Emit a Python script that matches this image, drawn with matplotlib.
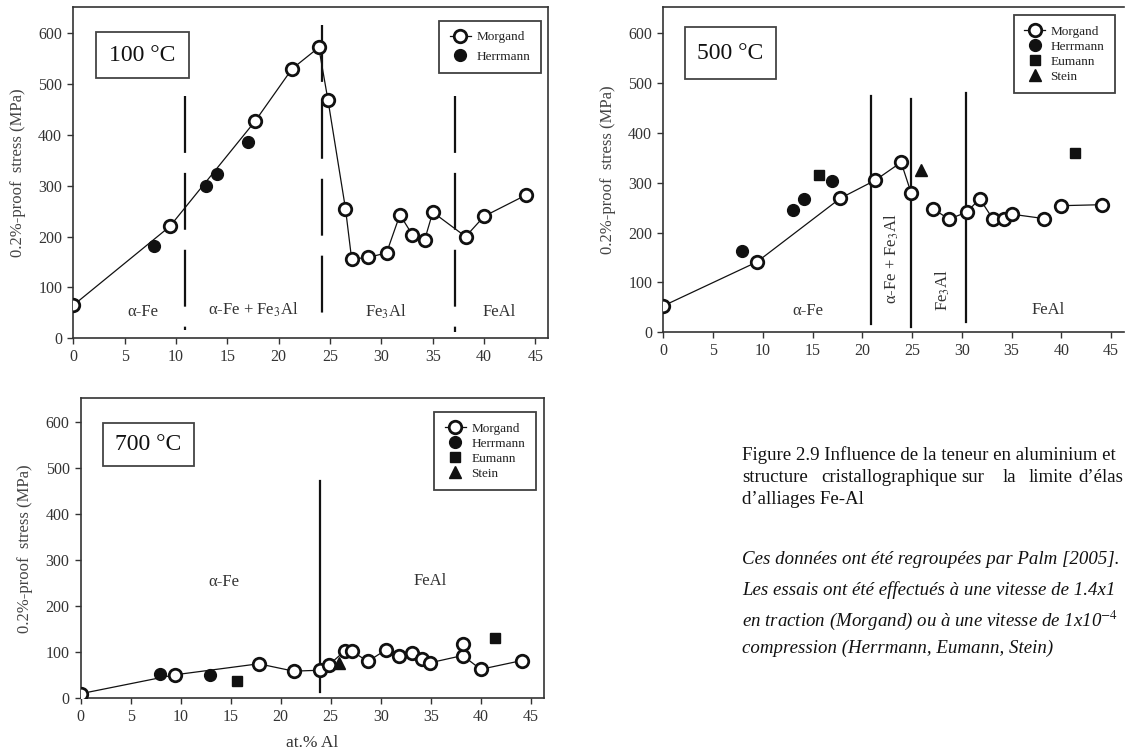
import numpy as np
import matplotlib
matplotlib.use("Agg")
import matplotlib.pyplot as plt
from matplotlib.patches import Rectangle
from matplotlib.lines import Line2D

plt.rcParams['font.family'] = ['Liberation Serif', 'DejaVu Serif']
plt.rcParams['mathtext.fontset'] = 'stix'

# =============================================================================
# data (at.% Al, 0.2% proof stress MPa)
# =============================================================================

# 100 °C
m100_x = [0, 9.4, 17.7, 21.3, 23.9, 24.8, 26.5, 27.1, 28.7, 30.5, 31.8, 33.0, 34.2, 35.0, 38.2, 40.0, 44.1]
m100_y = [65, 220, 427, 530, 572, 468, 255, 156, 159, 168, 243, 204, 193, 248, 200, 240, 282]
h100_x = [7.9, 12.9, 14.0, 17.0]
h100_y = [182, 300, 323, 387]
bound100_x = [10.9, 24.2, 37.2]

# 500 °C
m500_x = [0, 9.4, 17.8, 21.3, 23.9, 24.9, 27.1, 28.7, 30.5, 31.8, 33.1, 34.2, 35.0, 38.3, 40.0, 44.1]
m500_y = [53, 141, 269, 305, 341, 280, 248, 227, 241, 268, 228, 228, 237, 228, 254, 256]
m500_runs = [(0, 6), (6, 14), (14, 16)]     # connected pieces of the Morgand line
h500_x = [7.95, 13.0, 14.1, 17.0]
h500_y = [164, 245, 267, 303]
e500_x = [15.6, 41.4]
e500_y = [316, 360]
s500_x = [25.9]
s500_y = [325]
bound500_x = [20.85, 24.9, 30.4]

# 700 °C
m700_x = [0, 9.4, 17.8, 21.3, 23.9, 24.8, 26.4, 27.1, 28.7, 30.5, 31.8, 33.1, 34.1, 34.9, 38.2, 40.0, 44.1]
m700_y = [10, 51, 75, 59, 61, 72, 103, 103, 80, 105, 92, 99, 86, 77, 93, 63, 82]
m700_extra_x = [38.2]
m700_extra_y = [118]
h700_x = [7.9, 12.9]
h700_y = [53, 51]
e700_x = [15.6, 41.4]
e700_y = [38, 132]
s700_x = [25.8]
s700_y = [77]
bound700_x = [23.93]

# =============================================================================
# styles
# =============================================================================

INK = '#111111'
GREY = '#333333'
open_kw = dict(marker='o', ms=9, mfc='white', mec=INK, mew=2.0, ls='none', zorder=5)
herr_kw = dict(marker='o', ms=8.5, mfc=INK, mec=INK, ls='none', zorder=5)
eum_kw = dict(marker='s', ms=7.5, mfc=INK, mec=INK, ls='none', zorder=5)
stein_kw = dict(marker='^', ms=8, mfc=INK, mec=INK, ls='none', zorder=5)
line_kw = dict(color=INK, lw=0.9, zorder=3)

fig = plt.figure(figsize=(11.25, 7.54), dpi=100)


def setup_axes(rect, xmax, ymax):
    ax = fig.add_axes(rect)
    ax.set_xlim(0, xmax)
    ax.set_ylim(0, ymax)
    ax.set_xticks(np.arange(0, 46, 5))
    ax.set_yticks(np.arange(0, 601, 100))
    ax.tick_params(direction='out', length=4, width=1, colors=GREY,
                   labelsize=11.5, pad=4)
    for s in ax.spines.values():
        s.set_color(GREY)
        s.set_linewidth(1.2)
    ax.set_ylabel('0.2%-proof  stress (MPa)', fontsize=12, color='#444444', labelpad=9)
    return ax


def temp_box(ax, label, y0, y1):
    ax.add_patch(Rectangle((2.2, y0), 9.1, y1 - y0, fill=False, ec='#444444', lw=1.3, zorder=4))
    ax.text(6.75, (y0 + y1) / 2, label, ha='center', va='center', fontsize=17, color=INK)


def make_legend(ax, handles, labels, anchor, spacing):
    leg = ax.legend(handles, labels, loc='upper right', bbox_to_anchor=anchor,
                    bbox_transform=ax.transData, frameon=True, fancybox=False,
                    fontsize=9.5, handlelength=1.6, handletextpad=0.4,
                    labelspacing=spacing, borderpad=0.8, borderaxespad=0)
    leg.get_frame().set_edgecolor(INK)
    leg.get_frame().set_linewidth(1.3)
    for t in leg.get_texts():
        t.set_color('#222222')
    return leg


h_morg = Line2D([], [], color=INK, lw=0.9, marker='o', ms=9, mfc='white', mec=INK, mew=2)
h_herr = Line2D([], [], **herr_kw)
h_eum = Line2D([], [], **eum_kw)
h_stein = Line2D([], [], **stein_kw)

# =============================================================================
# 100 °C
# =============================================================================

ax1 = setup_axes([0.06516, 0.55133, 0.42178, 0.43899], 46.2, 651)
ax1.plot(m100_x, m100_y, **line_kw)
ax1.plot(m100_x, m100_y, **open_kw)
ax1.plot(h100_x, h100_y, **herr_kw)
tops = [476, 617, 476]
bots = [16, 33, 13]
for xb, yt, yb in zip(bound100_x, tops, bots):
    ax1.plot([xb, xb], [yt, yb], color=INK, lw=1.6, dashes=(25.6, 9), zorder=2)
ax1.text(6.8, 52, 'α-Fe', ha='center', va='center', fontsize=12, color=GREY)
ax1.text(17.5, 56, 'α-Fe + Fe$_3$Al', ha='center', va='center', fontsize=12, color=GREY)
ax1.text(30.4, 52, 'Fe$_3$Al', ha='center', va='center', fontsize=12, color=GREY)
ax1.text(41.5, 52, 'FeAl', ha='center', va='center', fontsize=12, color=GREY)
temp_box(ax1, '100 °C', 511, 603)
make_legend(ax1, [h_morg, h_herr], ['Morgand', 'Herrmann'], (45.5, 625), 0.55)

# =============================================================================
# 500 °C
# =============================================================================

ax2 = setup_axes([0.58960, 0.55929, 0.40951, 0.43103], 46.3, 652)
ax2.spines['right'].set_visible(False)
for a, b in m500_runs:
    ax2.plot(m500_x[a:b], m500_y[a:b], **line_kw)
ax2.plot(m500_x, m500_y, **open_kw)
ax2.plot(h500_x, h500_y, **herr_kw)
ax2.plot(e500_x, e500_y, **eum_kw)
ax2.plot(s500_x, s500_y, **stein_kw)
tops = [474, 469, 481]
bots = [17, 11, 21]
for xb, yt, yb in zip(bound500_x, tops, bots):
    ax2.plot([xb, xb], [yt, yb], color=INK, lw=1.6, zorder=2)
ax2.text(14.5, 42, 'α-Fe', ha='center', va='center', fontsize=12, color=GREY)
ax2.text(23.0, 148, 'α-Fe + Fe$_3$Al', ha='center', va='center', rotation=90, fontsize=12, color=GREY)
ax2.text(28.1, 84, 'Fe$_3$Al', ha='center', va='center', rotation=90, fontsize=12, color=GREY)
ax2.text(38.7, 45, 'FeAl', ha='center', va='center', fontsize=12, color=GREY)
temp_box(ax2, '500 °C', 508, 612)
make_legend(ax2, [h_morg, h_herr, h_eum, h_stein],
            ['Morgand', 'Herrmann', 'Eumann', 'Stein'], (45.4, 636), 0.2)

# =============================================================================
# 700 °C
# =============================================================================

ax3 = setup_axes([0.07173, 0.07387, 0.41156, 0.39788], 46.3, 652)
ax3.plot(m700_x, m700_y, **line_kw)
ax3.plot(m700_x, m700_y, **open_kw)
ax3.plot(m700_extra_x, m700_extra_y, **open_kw)
ax3.plot(h700_x, h700_y, **herr_kw)
ax3.plot(e700_x, e700_y, **eum_kw)
ax3.plot(s700_x, s700_y, **stein_kw)
for xb in bound700_x:
    ax3.plot([xb, xb], [473, 14], color=INK, lw=1.6, zorder=2)
ax3.text(14.3, 253, 'α-Fe', ha='center', va='center', fontsize=12, color=GREY)
ax3.text(34.9, 254, 'FeAl', ha='center', va='center', fontsize=12, color=GREY)
temp_box(ax3, '700 °C', 505, 598)
make_legend(ax3, [h_morg, h_herr, h_eum, h_stein],
            ['Morgand', 'Herrmann', 'Eumann', 'Stein'], (45.5, 622), 0.2)
ax3.set_xlabel('at.% Al', fontsize=12.5, color=GREY, labelpad=7)

# =============================================================================
# caption (cropped at the right edge in the source page)
# =============================================================================

cap_kw = dict(fontsize=13.6, color='#111111', va='center', ha='left')
x0 = 742 / 1125
fig.text(x0, 0.3966, 'Figure 2.9 Influence de la teneur en aluminium et', **cap_kw)
for word, px in [('structure', 742), ('cristallographique', 821), ('sur', 961),
                 ('la', 1003), ('limite', 1029), ('d’élas', 1078)]:
    fig.text(px / 1125, 0.3661, word, **cap_kw)
fig.text(x0, 0.3369, 'd’alliages Fe-Al', **cap_kw)

it_kw = dict(cap_kw, style='italic')
fig.text(x0, 0.2573, 'Ces données ont été regroupées par Palm [2005].', **it_kw)
fig.text(x0, 0.2175, 'Les essais ont été effectués à une vitesse de 1.4x1', **it_kw)
fig.text(x0, 0.1777, r'en traction (Morgand) ou à une vitesse de 1x10$^{\mathit{-4}}$', **it_kw)
fig.text(x0, 0.1406, 'compression (Herrmann, Eumann, Stein)', **it_kw)

fig.savefig('out.png', dpi=100)
